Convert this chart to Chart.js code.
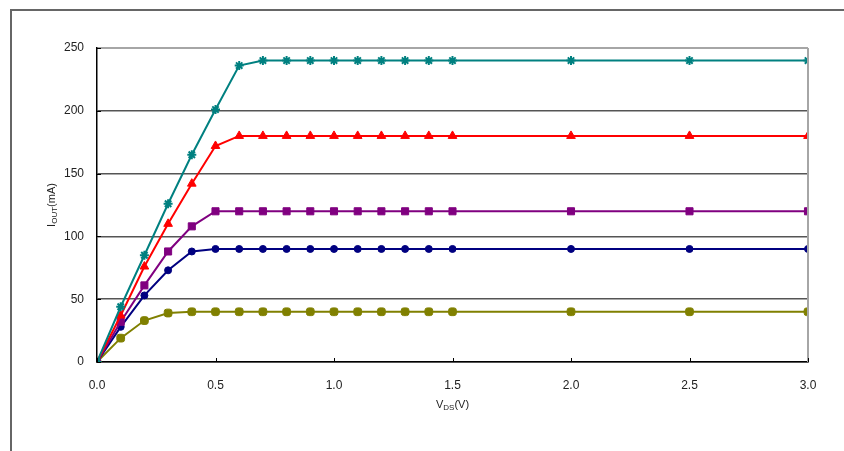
<!DOCTYPE html>
<html>
<head>
<meta charset="utf-8">
<script src="https://cdn.jsdelivr.net/npm/chart.js@4"></script>
<style>
  html, body { margin: 0; padding: 0; background: #fff; }
  #wrap { position: relative; width: 844px; height: 451px; }
  #frame { position: absolute; left: 10px; top: 9px; right: 0; bottom: 0;
           border-left: 2px solid #666; border-top: 2px solid #666; }
  canvas { position: absolute; left: 0; top: 0; }
</style>
</head>
<body>
<div id="wrap">
  <div id="frame"></div>
  <canvas id="chart" width="844" height="451"></canvas>
</div>
<script>
// V_DS in volts
const vds = [0, 0.1, 0.2, 0.3, 0.4, 0.5, 0.6, 0.7, 0.8, 0.9, 1.0, 1.1, 1.2, 1.3, 1.4, 1.5, 2.0, 2.5, 3.0];

// I_OUT in mA, one curve per setting
const iout240 = [0, 44, 85, 126, 165, 201, 236, 240, 240, 240, 240, 240, 240, 240, 240, 240, 240, 240, 240];
const iout180 = [0, 37, 76, 110, 142, 172, 180, 180, 180, 180, 180, 180, 180, 180, 180, 180, 180, 180, 180];
const iout120 = [0, 32, 61, 88, 108, 120, 120, 120, 120, 120, 120, 120, 120, 120, 120, 120, 120, 120, 120];
const iout90  = [0, 28, 53, 73, 88, 90, 90, 90, 90, 90, 90, 90, 90, 90, 90, 90, 90, 90, 90];
const iout40  = [0, 19, 33, 39, 40, 40, 40, 40, 40, 40, 40, 40, 40, 40, 40, 40, 40, 40, 40];

const xTicks = [0, 0.5, 1.0, 1.5, 2.0, 2.5, 3.0];
const yTicks = [0, 50, 100, 150, 200, 250];

function pts(values) {
    return vds.map((x, i) => ({ x: x, y: values[i] }));
}

function series(values, color, style, radius) {
    return {
        data: pts(values),
        borderColor: color,
        backgroundColor: color,
        borderWidth: 2,
        pointStyle: style,
        pointRadius: radius,
        pointBorderWidth: style === 'star' ? 2 : 1,
        tension: 0
    };
}

// draw a label with a subscript part, e.g. I + OUT + (mA)
function subText(ctx, parts, cx, cy, rotate) {
    ctx.save();
    ctx.translate(cx, cy);
    if (rotate) ctx.rotate(-Math.PI / 2);
    let total = 0;
    parts.forEach(p => {
        ctx.font = (p.sub ? '8px' : '11px') + ' "Liberation Sans", Arial, sans-serif';
        p.w = ctx.measureText(p.t).width;
        total += p.w;
    });
    let x = -total / 2;
    ctx.fillStyle = '#222';
    ctx.textBaseline = 'middle';
    parts.forEach(p => {
        ctx.font = (p.sub ? '8px' : '11px') + ' "Liberation Sans", Arial, sans-serif';
        ctx.fillText(p.t, x, p.sub ? 3 : 0);
        x += p.w;
    });
    ctx.restore();
}

const decorations = {
    id: 'decorations',
    afterDraw(chart) {
        const ctx = chart.ctx;
        const a = chart.chartArea;
        const xs = chart.scales.x;
        const ys = chart.scales.y;
        ctx.save();
        // right border of plot area
        ctx.strokeStyle = '#a6a6a6';
        ctx.lineWidth = 2;
        ctx.beginPath();
        ctx.moveTo(a.right, a.top);
        ctx.lineTo(a.right, a.bottom);
        ctx.stroke();
        // inward tick marks
        ctx.strokeStyle = '#000';
        ctx.lineWidth = 1;
        ctx.beginPath();
        xTicks.forEach(v => {
            const px = Math.round(xs.getPixelForValue(v)) + 0.5;
            ctx.moveTo(px, a.bottom);
            ctx.lineTo(px, a.bottom - 4);
        });
        yTicks.forEach(v => {
            const py = Math.round(ys.getPixelForValue(v)) + 0.5;
            ctx.moveTo(a.left, py);
            ctx.lineTo(a.left + 4, py);
        });
        ctx.stroke();
        ctx.restore();

        subText(ctx, [{ t: 'V' }, { t: 'DS', sub: true }, { t: '(V)' }], (a.left + a.right) / 2, 405, false);
        subText(ctx, [{ t: 'I' }, { t: 'OUT', sub: true }, { t: '(mA)' }], 52, (a.top + a.bottom) / 2, true);
    }
};

new Chart(document.getElementById('chart'), {
    type: 'line',
    data: {
        datasets: [
            series(iout240, '#008080', 'star', 4.5),
            series(iout180, '#ff0000', 'triangle', 5),
            series(iout120, '#800080', 'rect', 5),
            series(iout90, '#000080', 'circle', 3.5),
            series(iout40, '#808000', 'rectRounded', 4.5)
        ]
    },
    options: {
        responsive: false,
        animation: false,
        layout: { padding: { top: 48, right: 36, left: 0, bottom: 0 } },
        plugins: {
            legend: { display: false },
            tooltip: { enabled: false }
        },
        scales: {
            x: {
                type: 'linear',
                min: 0,
                max: 3,
                afterFit: (s) => { s.height = 89; },
                afterBuildTicks: (s) => { s.ticks = xTicks.map(v => ({ value: v })); },
                border: { color: '#000', width: 1.5 },
                grid: { display: false, drawTicks: false },
                ticks: {
                    padding: 16,
                    color: '#222',
                    font: { family: '"Liberation Sans", Arial, sans-serif', size: 12 },
                    callback: (v) => Number(v).toFixed(1)
                }
            },
            y: {
                min: 0,
                max: 250,
                afterFit: (s) => { s.width = 97; },
                afterBuildTicks: (s) => { s.ticks = yTicks.map(v => ({ value: v })); },
                border: { color: '#000', width: 1.5 },
                grid: {
                    drawTicks: false,
                    color: (c) => c.tick && c.tick.value === 250 ? '#a6a6a6' : '#555',
                    lineWidth: (c) => c.tick && c.tick.value === 250 ? 2 : 1.5
                },
                ticks: {
                    padding: 13,
                    color: '#222',
                    font: { family: '"Liberation Sans", Arial, sans-serif', size: 12 }
                }
            }
        }
    },
    plugins: [decorations]
});
</script>
</body>
</html>
